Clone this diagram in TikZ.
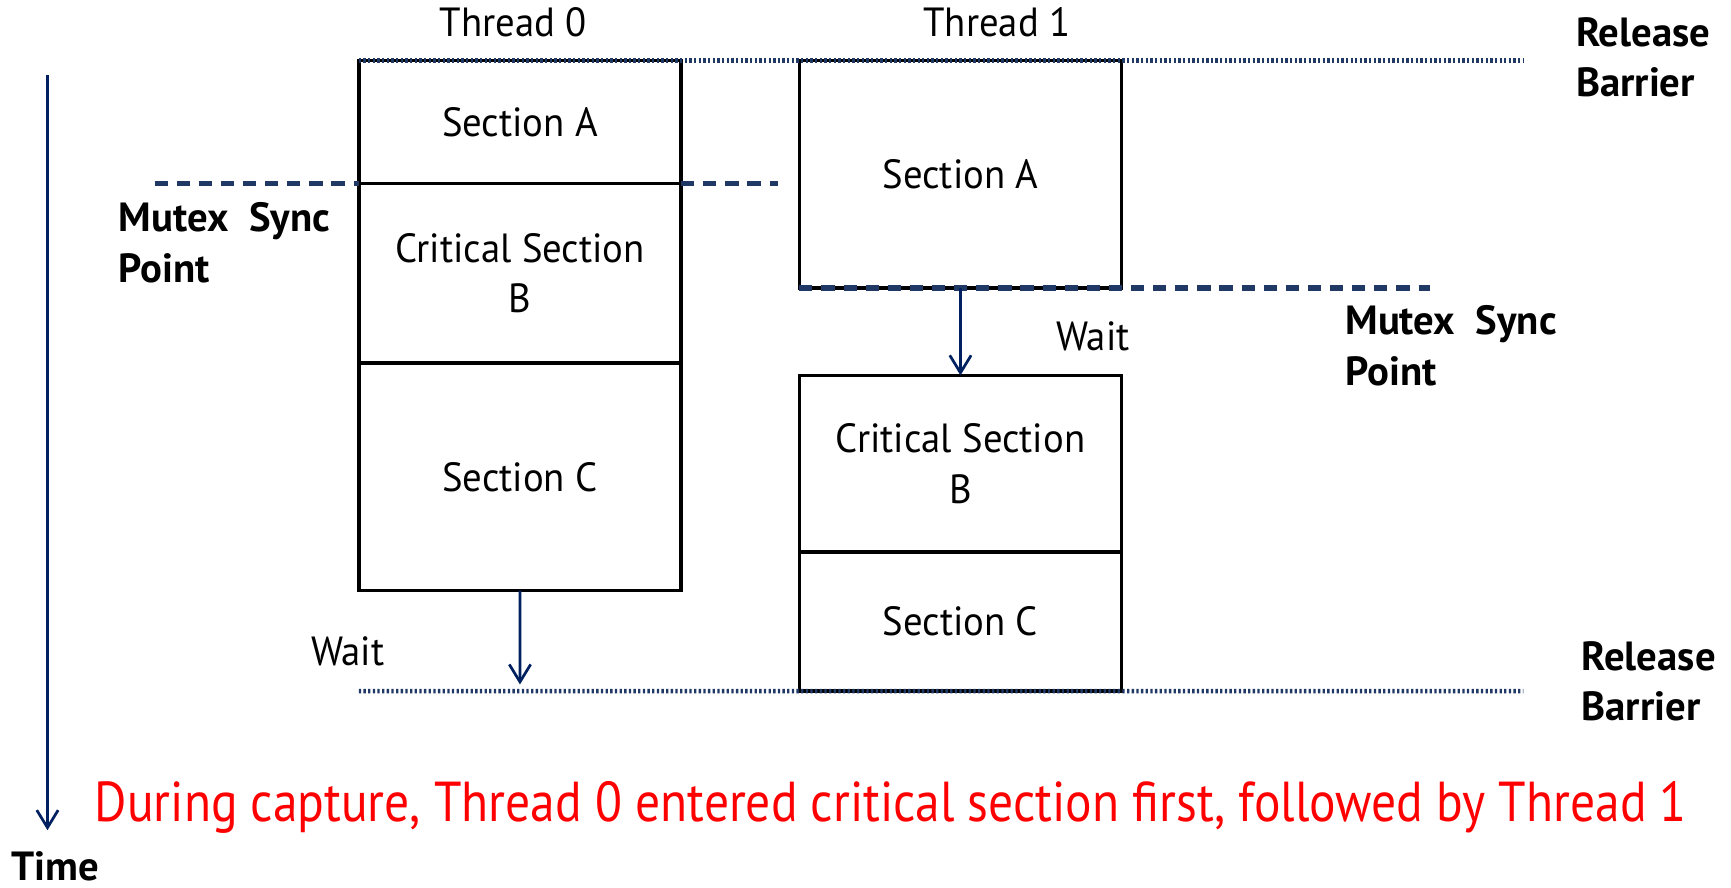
\documentclass[tikz,border=0pt]{standalone}
\usepackage{fontspec}
\setmainfont{PT Sans}
\newfontfamily\narrowfont[FakeStretch=0.95]{PT Sans}
\newfontfamily\notefont[FakeStretch=0.88]{PT Sans}
\usepackage{tikz}
\usetikzlibrary{arrows.meta,positioning}
\definecolor{barriernavy}{HTML}{1F3864}
\definecolor{arrownavy}{HTML}{002060}
\definecolor{notered}{HTML}{FF0000}
\tikzset{
  section/.style={draw=black,line width=.9pt,minimum width=2.92cm,inner sep=0pt,outer sep=0pt,align=center,font=\narrowfont\fontsize{10.5}{13}\selectfont},
  plaintag/.style={inner sep=0pt,font=\narrowfont\fontsize{10.5}{13}\selectfont},
  boldtag/.style={inner sep=0pt,anchor=north west,align=left,font=\bfseries\fontsize{10.5}{13}\selectfont},
  barrier/.style={barriernavy,line width=1.2pt,dash pattern=on .6pt off .6pt},
  syncline/.style={barriernavy,line width=1.4pt,dash pattern=on 3.4pt off 2.3pt},
  waitflow/.style={-{Straight Barb[length=4.5pt,width=5.5pt]},arrownavy,line width=.7pt},
}

\begin{document}
\begin{tikzpicture}
    \useasboundingbox (0,0) rectangle (15.68,-8.04);
    % thread 0
    \node[section,minimum height=1.11cm,anchor=north west] (t0a) at (3.25,-.55) {Section A};
    \node[section,minimum height=1.63cm,below=0pt of t0a] (t0b) {Critical Section\\B};
    \node[section,minimum height=2.06cm,below=0pt of t0b] (t0c) {Section C};
    \node[plaintag,above=.21cm of t0a,xshift=-.06cm] (th0) {Thread 0};
    % thread 1
    \node[section,minimum height=2.06cm,anchor=north west] (t1a) at (7.24,-.55) {Section A};
    \node[section,minimum height=1.60cm,below=.79cm of t1a] (t1b) {Critical Section\\B};
    \node[section,minimum height=1.26cm,below=0pt of t1b] (t1c) {Section C};
    \node[plaintag,above=.21cm of t1a,xshift=.33cm] (th1) {Thread 1};
    % barriers and sync points
    \coordinate (topEnd) at (13.80,-.55);
    \coordinate (botEnd) at (13.80,-6.26);
    \coordinate (syncL) at (1.40,-1.66);
    \coordinate (syncM) at (7.05,-1.66);
    \coordinate (syncR) at (12.95,-2.61);
    \draw[barrier] (t0a.north west)--(topEnd);
    \draw[barrier] (t0c.south west |- t1c.south)--(botEnd);
    \draw[syncline] (syncL)--(t0b.north west);\draw[syncline] (t0b.north east)--(syncM);
    \draw[syncline] (t1a.south west)--(syncR);
    \node[boldtag] (relTop) at (14.27,-.15) {Release\\Barrier};
    \node[boldtag] (relBot) at (14.32,-5.80) {Release\\Barrier};
    \node[boldtag] (syncTxtL) at (1.07,-1.83) {Mutex\ \ Sync\\Point};
    \node[boldtag] (syncTxtR) at (12.18,-2.76) {Mutex\ \ Sync\\Point};
    % waits
    \coordinate (t0stop) at (4.71,-6.20);
    \draw[waitflow] (t1a.south)--(t1b.north);\draw[waitflow] (t0c.south)--(t0stop);
    \node[plaintag] (w1) at (9.90,-3.05) {Wait};
    \node[plaintag] (w0) at (3.15,-5.90) {Wait};
    % time axis
    \coordinate (timeTop) at (.43,-.68);
    \coordinate (timeEnd) at (.43,-7.52);
    \draw[waitflow] (timeTop)--(timeEnd);
    \node[boldtag,anchor=north] (time) at (.50,-7.71) {Time};
    \node[inner sep=0pt,text=notered,font=\notefont\fontsize{14.5}{17}\selectfont] (note) at (8.07,-7.31) {During capture, Thread 0 entered critical section first, followed by Thread 1};
\end{tikzpicture}
\end{document}
